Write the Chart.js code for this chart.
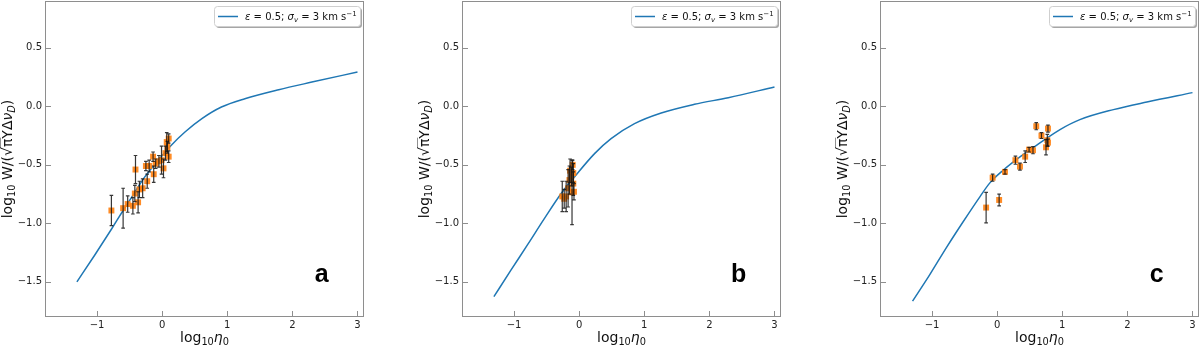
<!DOCTYPE html>
<html>
<head>
<meta charset="utf-8">
<script src="https://cdn.jsdelivr.net/npm/chart.js@4"></script>
<style>
  html, body { margin: 0; padding: 0; background: #fff; overflow: hidden; }
  canvas { position: absolute; top: 0; }
</style>
</head>
<body>
<canvas id="chartA" width="365" height="347" style="left:0px"></canvas>
<canvas id="chartB" width="365" height="347" style="left:417px"></canvas>
<canvas id="chartC" width="365" height="347" style="left:835px"></canvas>
<script>
// model curves
const curveAX = [-1.31, -1.035, -0.78, -0.6, -0.42, -0.27, -0.06, 0.14, 0.35, 0.61, 0.91, 1.27, 1.79, 2.3, 3.0];
const curveAY = [-1.50, -1.27, -1.05, -0.89, -0.735, -0.605, -0.46, -0.332, -0.219, -0.105, -0.006, 0.065, 0.142, 0.207, 0.293];
const curveBX = [-1.31, -1.046, -0.79, -0.533, -0.277, -0.072, 0.236, 0.49, 0.85, 1.26, 1.77, 2.29, 3.0];
const curveBY = [-1.626, -1.398, -1.18, -0.958, -0.745, -0.603, -0.404, -0.276, -0.148, -0.057, 0.017, 0.074, 0.165];
const curveCX = [-1.30, -1.035, -0.78, -0.523, -0.266, -0.112, 0.092, 0.35, 0.657, 0.965, 1.27, 1.785, 2.3, 3.0];
const curveCY = [-1.665, -1.438, -1.207, -0.986, -0.773, -0.654, -0.546, -0.432, -0.313, -0.199, -0.114, -0.028, 0.037, 0.117];

// measured points + error bars
const ptsAX = [-0.78, -0.60, -0.53, -0.45, -0.41, -0.42, -0.37, -0.35, -0.30, -0.23, -0.25, -0.20, -0.14, -0.13, -0.10, -0.05, -0.01, 0.02, 0.05, 0.07, 0.10, 0.08, 0.10];
const ptsAY = [-0.89, -0.87, -0.835, -0.85, -0.54, -0.745, -0.82, -0.71, -0.70, -0.64, -0.51, -0.51, -0.43, -0.58, -0.49, -0.47, -0.46, -0.53, -0.40, -0.305, -0.275, -0.35, -0.43];
const ptsAErr = [0.13, 0.17, 0.07, 0.07, 0.12, 0.07, 0.09, 0.07, 0.08, 0.06, 0.04, 0.05, 0.04, 0.07, 0.04, 0.05, 0.12, 0.08, 0.06, 0.08, 0.04, 0.05, 0.05];

const ptsBX = [-0.26, -0.23, -0.20, -0.17, -0.15, -0.14, -0.11, -0.10, -0.09, -0.09, -0.08, -0.12];
const ptsBY = [-0.77, -0.79, -0.77, -0.70, -0.63, -0.55, -0.735, -0.50, -0.57, -0.66, -0.73, -0.60];
const ptsBErr = [0.13, 0.08, 0.13, 0.16, 0.12, 0.10, 0.275, 0.04, 0.08, 0.10, 0.07, 0.08];

const ptsCX = [-0.17, -0.07, 0.03, 0.12, 0.28, 0.35, 0.43, 0.49, 0.55, 0.60, 0.68, 0.78, 0.75, 0.77, 0.78];
const ptsCY = [-0.865, -0.61, -0.80, -0.56, -0.46, -0.515, -0.43, -0.37, -0.375, -0.17, -0.25, -0.19, -0.35, -0.29, -0.31];
const ptsCErr = [0.13, 0.03, 0.05, 0.02, 0.035, 0.03, 0.05, 0.02, 0.03, 0.03, 0.025, 0.03, 0.065, 0.05, 0.03];

const xTicks = [-1, 0, 1, 2, 3];
const xTickLabels = ['\u22121', '0', '1', '2', '3'];
const yTicks = [-1.5, -1.0, -0.5, 0.0, 0.5];
const yTickLabels = ['\u22121.5', '\u22121.0', '\u22120.5', '0.0', '0.5'];
const panelLabels = ['a', 'b', 'c'];

const FONT = '"DejaVu Sans"';
const frameColor = '#8e8e8e';

// text with italic / sub / sup pieces
function richWidth(ctx, segs, size) {
  let w = 0;
  segs.forEach(function (s) {
    let fs = (s.sub || s.sup) ? size * 0.7 : size;
    ctx.font = (s.it ? 'italic ' : '') + fs + 'px ' + FONT;
    w += ctx.measureText(s.t).width;
  });
  return w;
}
function drawRich(ctx, segs, x, y, size) {
  let cx = x;
  segs.forEach(function (s) {
    let fs = (s.sub || s.sup) ? size * 0.7 : size;
    let dy = s.sub ? size * 0.22 : (s.sup ? -size * 0.38 : 0);
    ctx.font = (s.it ? 'italic ' : '') + fs + 'px ' + FONT;
    ctx.fillText(s.t, cx, y + dy);
    let w = ctx.measureText(s.t).width;
    if (s.over) {
      ctx.save();
      ctx.lineWidth = 1;
      ctx.strokeStyle = ctx.fillStyle;
      ctx.beginPath();
      ctx.moveTo(cx - 1, y - size * 0.86);
      ctx.lineTo(cx + w + 1, y - size * 0.86);
      ctx.stroke();
      ctx.restore();
    }
    cx += w;
  });
}

const yTitle = [{t: 'log'}, {t: '10', sub: true}, {t: ' W/('}, {t: '\u221A'}, {t: '\u03C0', over: true}, {t: 'Y\u0394'}, {t: '\u03BD', it: true}, {t: 'D', it: true, sub: true}, {t: ')'}];
const xTitle = [{t: 'log'}, {t: '10', sub: true}, {t: '\u03B7', it: true}, {t: '0', sub: true}];
const legendText = [{t: '\u03B5', it: true}, {t: ' = 0.5; '}, {t: '\u03C3', it: true}, {t: 'v', it: true, sub: true}, {t: ' = 3 km s'}, {t: '\u22121', sup: true}];

// error bars drawn through the scales
const errorBars = {
  id: 'errorBars',
  afterDatasetsDraw: function (chart, args, opts) {
    const ctx = chart.ctx;
    const xs = chart.scales.x, ys = chart.scales.y;
    ctx.save();
    ctx.strokeStyle = 'rgba(20,20,20,0.85)';
    ctx.lineWidth = 1.2;
    opts.x.forEach(function (xv, i) {
      let px = xs.getPixelForValue(xv);
      let y1 = ys.getPixelForValue(opts.y[i] - opts.err[i]);
      let y2 = ys.getPixelForValue(opts.y[i] + opts.err[i]);
      ctx.beginPath();
      ctx.moveTo(px, y1); ctx.lineTo(px, y2);
      ctx.moveTo(px - 1.8, y1); ctx.lineTo(px + 1.8, y1);
      ctx.moveTo(px - 1.8, y2); ctx.lineTo(px + 1.8, y2);
      ctx.stroke();
    });
    ctx.restore();
  }
};

// frame, inward ticks, legend, titles, panel letter
const decorations = {
  id: 'decorations',
  afterDraw: function (chart, args, opts) {
    const ctx = chart.ctx;
    const a = chart.chartArea;
    const xs = chart.scales.x, ys = chart.scales.y;
    ctx.save();
    ctx.strokeStyle = frameColor;
    ctx.lineWidth = 1;
    ctx.strokeRect(a.left + 0.5, a.top + 0.5, a.right - a.left - 1, a.bottom - a.top - 1);
    ctx.beginPath();
    xTicks.forEach(function (v) {
      let px = Math.round(xs.getPixelForValue(v)) + 0.5;
      ctx.moveTo(px, a.bottom); ctx.lineTo(px, a.bottom - 6);
    });
    yTicks.forEach(function (v) {
      let py = Math.round(ys.getPixelForValue(v)) + 0.5;
      ctx.moveTo(a.left, py); ctx.lineTo(a.left + 6, py);
    });
    ctx.stroke();

    // legend box
    let bx = a.right - 150, by = a.top + 5, bw = 146, bh = 20;
    ctx.fillStyle = 'rgba(0,0,0,0.35)';
    ctx.beginPath();
    ctx.roundRect(bx + 2, by + 2, bw, bh, 3);
    ctx.fill();
    ctx.fillStyle = '#fff';
    ctx.strokeStyle = '#cfcfcf';
    ctx.beginPath();
    ctx.roundRect(bx + 0.5, by + 0.5, bw, bh, 3);
    ctx.fill();
    ctx.stroke();
    ctx.strokeStyle = '#1f77b4';
    ctx.lineWidth = 1.5;
    ctx.beginPath();
    ctx.moveTo(bx + 4, by + 10.5); ctx.lineTo(bx + 24, by + 10.5);
    ctx.stroke();
    ctx.fillStyle = '#111';
    ctx.textBaseline = 'alphabetic';
    ctx.textAlign = 'left';
    drawRich(ctx, legendText, bx + 31, by + 14, 10);

    // x title
    let xw = richWidth(ctx, xTitle, 14);
    drawRich(ctx, xTitle, (a.left + a.right) / 2 - xw / 2, 342, 14);

    // y title (rotated)
    let yw = richWidth(ctx, yTitle, 14);
    ctx.translate(a.left - 33, (a.top + a.bottom) / 2);
    ctx.rotate(-Math.PI / 2);
    drawRich(ctx, yTitle, -yw / 2, 0, 14);
    ctx.restore();

    // panel letter
    ctx.save();
    ctx.fillStyle = '#000';
    ctx.font = 'bold 25px "Liberation Sans"';
    ctx.textAlign = 'center';
    ctx.textBaseline = 'alphabetic';
    ctx.fillText(opts.label, xs.getPixelForValue(2.45), ys.getPixelForValue(-1.5));
    ctx.restore();
  }
};

function noPad(s) {
  s.paddingTop = 0; s.paddingBottom = 0; s.paddingLeft = 0; s.paddingRight = 0;
}

function makePanel(id, cx, cy, px, py, perr, label) {
  const curve = cx.map(function (x, i) { return {x: x, y: cy[i]}; });
  const pts = px.map(function (x, i) { return {x: x, y: py[i]}; });
  new Chart(document.getElementById(id), {
    type: 'scatter',
    data: {
      datasets: [{
        data: pts,
        order: 0,
        pointStyle: 'rect',
        pointRadius: 4.2,
        backgroundColor: 'rgba(255,127,14,0.9)',
        borderWidth: 0
      }, {
        type: 'line',
        data: curve,
        order: 1,
        borderColor: '#1f77b4',
        borderWidth: 1.5,
        pointRadius: 0,
        fill: false,
        cubicInterpolationMode: 'monotone'
      }]
    },
    options: {
      responsive: false,
      animation: false,
      events: [],
      layout: { autoPadding: false, padding: { top: 1, right: 1, left: 0, bottom: 0 } },
      plugins: {
        legend: { display: false },
        tooltip: { enabled: false },
        errorBars: { x: px, y: py, err: perr },
        decorations: { label: label }
      },
      scales: {
        x: {
          type: 'linear',
          min: -1.8,
          max: 3.1,
          grid: { display: false, drawTicks: false },
          border: { display: false },
          afterBuildTicks: function (s) { s.ticks = xTicks.map(function (v) { return {value: v}; }); },
          afterFit: function (s) { s.height = 30; noPad(s); },
          ticks: {
            padding: 2,
            color: '#222',
            font: { family: 'DejaVu Sans', size: 10 },
            callback: function (v) { return xTickLabels[xTicks.indexOf(v)]; }
          }
        },
        y: {
          type: 'linear',
          min: -1.8,
          max: 0.9,
          grid: { display: false, drawTicks: false },
          border: { display: false },
          afterBuildTicks: function (s) { s.ticks = yTicks.map(function (v) { return {value: v}; }); },
          afterFit: function (s) { s.width = 45; noPad(s); },
          ticks: {
            padding: 3,
            color: '#222',
            font: { family: 'DejaVu Sans', size: 10 },
            callback: function (v) {
              let i = yTicks.findIndex(function (t) { return Math.abs(t - v) < 1e-9; });
              return yTickLabels[i];
            }
          }
        }
      }
    },
    plugins: [errorBars, decorations]
  });
}

makePanel('chartA', curveAX, curveAY, ptsAX, ptsAY, ptsAErr, panelLabels[0]);
makePanel('chartB', curveBX, curveBY, ptsBX, ptsBY, ptsBErr, panelLabels[1]);
makePanel('chartC', curveCX, curveCY, ptsCX, ptsCY, ptsCErr, panelLabels[2]);
</script>
</body>
</html>
